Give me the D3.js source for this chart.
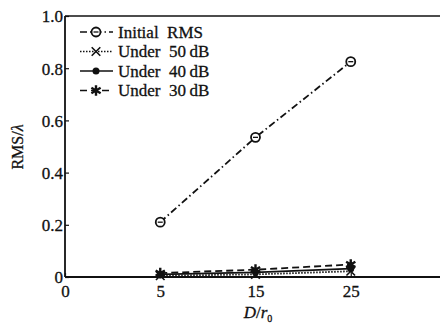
<!DOCTYPE html>
<html>
<head>
  <meta charset="utf-8">
  <title>RMS vs D/r0</title>
  <script src="https://d3js.org/d3.v7.min.js"></script>
  <style>
    body { margin: 0; background: #fff; }
  </style>
</head>
<body>
  <svg id="grafico"></svg>

  <script>
    // datos
    const distancias = ["5", "15", "25"];
    const ejeX = ["0", "5", "15", "25", "35"];
    const ticksY = [0, 0.2, 0.4, 0.6, 0.8, 1.0];

    const rmsInicial = [0.21, 0.535, 0.825];
    const bajo50 = [0.005, 0.01, 0.022];
    const bajo40 = [0.01, 0.018, 0.032];
    const bajo30 = [0.015, 0.028, 0.048];

    const series = [
      { nombre: "Initial  RMS", valores: rmsInicial, trazo: "7,3,1.5,3", marca: "circulo" },
      { nombre: "Under  50\u2009dB", valores: bajo50, trazo: "1.5,1.5", marca: "x" },
      { nombre: "Under  40\u2009dB", valores: bajo40, trazo: null, marca: "punto" },
      { nombre: "Under  30\u2009dB", valores: bajo30, trazo: "7,4", marca: "asterisco" }
    ];

    const fuente = "'Liberation Serif', 'Times New Roman', 'DejaVu Serif', serif";
    const ancho = 440, alto = 327;
    const svg = d3.select("#grafico").attr("width", ancho).attr("height", alto);

    const x = d3.scalePoint().domain(ejeX).range([65, 446]);
    const y = d3.scaleLinear().domain([0, 1]).range([277, 16]);

    // marco superior
    svg.append("line")
      .attr("x1", 65).attr("x2", ancho)
      .attr("y1", y(1)).attr("y2", y(1))
      .style("stroke", "#111").style("stroke-width", 1.6);

    // eje y
    const ejeIzq = svg.append("g").attr("transform", "translate(65,0)")
      .call(d3.axisLeft(y).tickValues(ticksY).tickSize(-4).tickPadding(2)
        .tickFormat(d => d === 0 ? "0" : d3.format(".1f")(d)));
    ejeIzq.select(".domain").attr("d", `M0,${y(1)}V${y(0)}`).style("stroke", "#111").style("stroke-width", 1.8);
    ejeIzq.selectAll(".tick line").style("stroke", "#111").style("stroke-width", 1.2);
    ejeIzq.selectAll(".tick text").style("font-family", fuente).style("font-size", "17px")
      .style("fill", "#111").style("stroke", "#111").style("stroke-width", 0.3).attr("dy", "0.35em");

    // eje x
    const ejeAbajo = svg.append("g").attr("transform", `translate(0,${y(0)})`)
      .call(d3.axisBottom(x).tickValues(["0", "5", "15", "25"]).tickSize(-4).tickPadding(8));
    ejeAbajo.select(".domain").attr("d", `M65,0H${ancho}`).style("stroke", "#111").style("stroke-width", 1.8);
    ejeAbajo.selectAll(".tick line").style("stroke", "#111").style("stroke-width", 1.2);
    ejeAbajo.selectAll(".tick text").style("font-family", fuente).style("font-size", "17px")
      .style("fill", "#111").style("stroke", "#111").style("stroke-width", 0.3);

    // titulos de ejes
    const tituloY = svg.append("text")
      .attr("transform", `translate(23,147) rotate(-90)`)
      .attr("text-anchor", "middle").style("font-family", fuente).style("font-size", "16px")
      .style("fill", "#111").style("stroke", "#111").style("stroke-width", 0.3);
    tituloY.append("tspan").text("RMS/");
    tituloY.append("tspan").style("font-style", "italic").text("\u03bb");

    const tituloX = svg.append("text")
      .attr("x", 258).attr("y", 318).attr("text-anchor", "middle")
      .style("font-family", fuente).style("font-size", "17px")
      .style("fill", "#111").style("stroke", "#111").style("stroke-width", 0.3);
    tituloX.append("tspan").style("font-style", "italic").text("D");
    tituloX.append("tspan").text("/");
    tituloX.append("tspan").style("font-style", "italic").text("r");
    tituloX.append("tspan").attr("dy", 4).style("font-size", "10px").text("0");

    // marcadores
    function marcar(g, tipo, cx, cy) {
      if (tipo === "circulo") {
        g.append("circle").attr("cx", cx).attr("cy", cy).attr("r", 4.5)
          .style("fill", "#fff").style("stroke", "#111").style("stroke-width", 1.8);
        g.append("line").attr("x1", cx - 2.5).attr("x2", cx + 2.5).attr("y1", cy).attr("y2", cy)
          .style("stroke", "#111").style("stroke-width", 1.3);
      } else if (tipo === "punto") {
        g.append("circle").attr("cx", cx).attr("cy", cy).attr("r", 3.5).style("fill", "#111");
      } else if (tipo === "x") {
        g.append("path").attr("transform", `translate(${cx},${cy})`)
          .attr("d", d3.symbol(d3.symbolTimes || d3.symbolCross, 50)())
          .style("fill", d3.symbolTimes ? "none" : "#111").style("stroke", "#111").style("stroke-width", 1.6);
      } else {
        g.append("path").attr("transform", `translate(${cx},${cy})`)
          .attr("d", d3.symbol(d3.symbolAsterisk || d3.symbolStar, 80)())
          .style("fill", d3.symbolAsterisk ? "none" : "#111").style("stroke", "#111").style("stroke-width", 2.4);
      }
    }

    const linea = d3.line().x((d, i) => x(distancias[i])).y(d => y(d));

    series.forEach(s => {
      svg.append("path").datum(s.valores)
        .attr("d", linea)
        .style("fill", "none").style("stroke", "#111").style("stroke-width", 1.8)
        .style("stroke-dasharray", s.trazo);
      const g = svg.append("g");
      s.valores.forEach((v, i) => marcar(g, s.marca, x(distancias[i]), y(v)));
    });

    // leyenda
    const leyenda = svg.append("g");
    series.forEach((s, i) => {
      const ly = 32 + i * 19.5;
      leyenda.append("line")
        .attr("x1", 80).attr("x2", 113).attr("y1", ly).attr("y2", ly)
        .style("stroke", "#111").style("stroke-width", 1.6).style("stroke-dasharray", s.trazo);
      marcar(leyenda, s.marca, 96, ly);
      leyenda.append("text").attr("x", 118).attr("y", ly).attr("dy", "0.35em")
        .style("font-family", fuente).style("font-size", "17px").style("fill", "#111")
        .style("stroke", "#111").style("stroke-width", 0.3)
        .style("white-space", "pre").text(s.nombre);
    });
  </script>
</body>
</html>
